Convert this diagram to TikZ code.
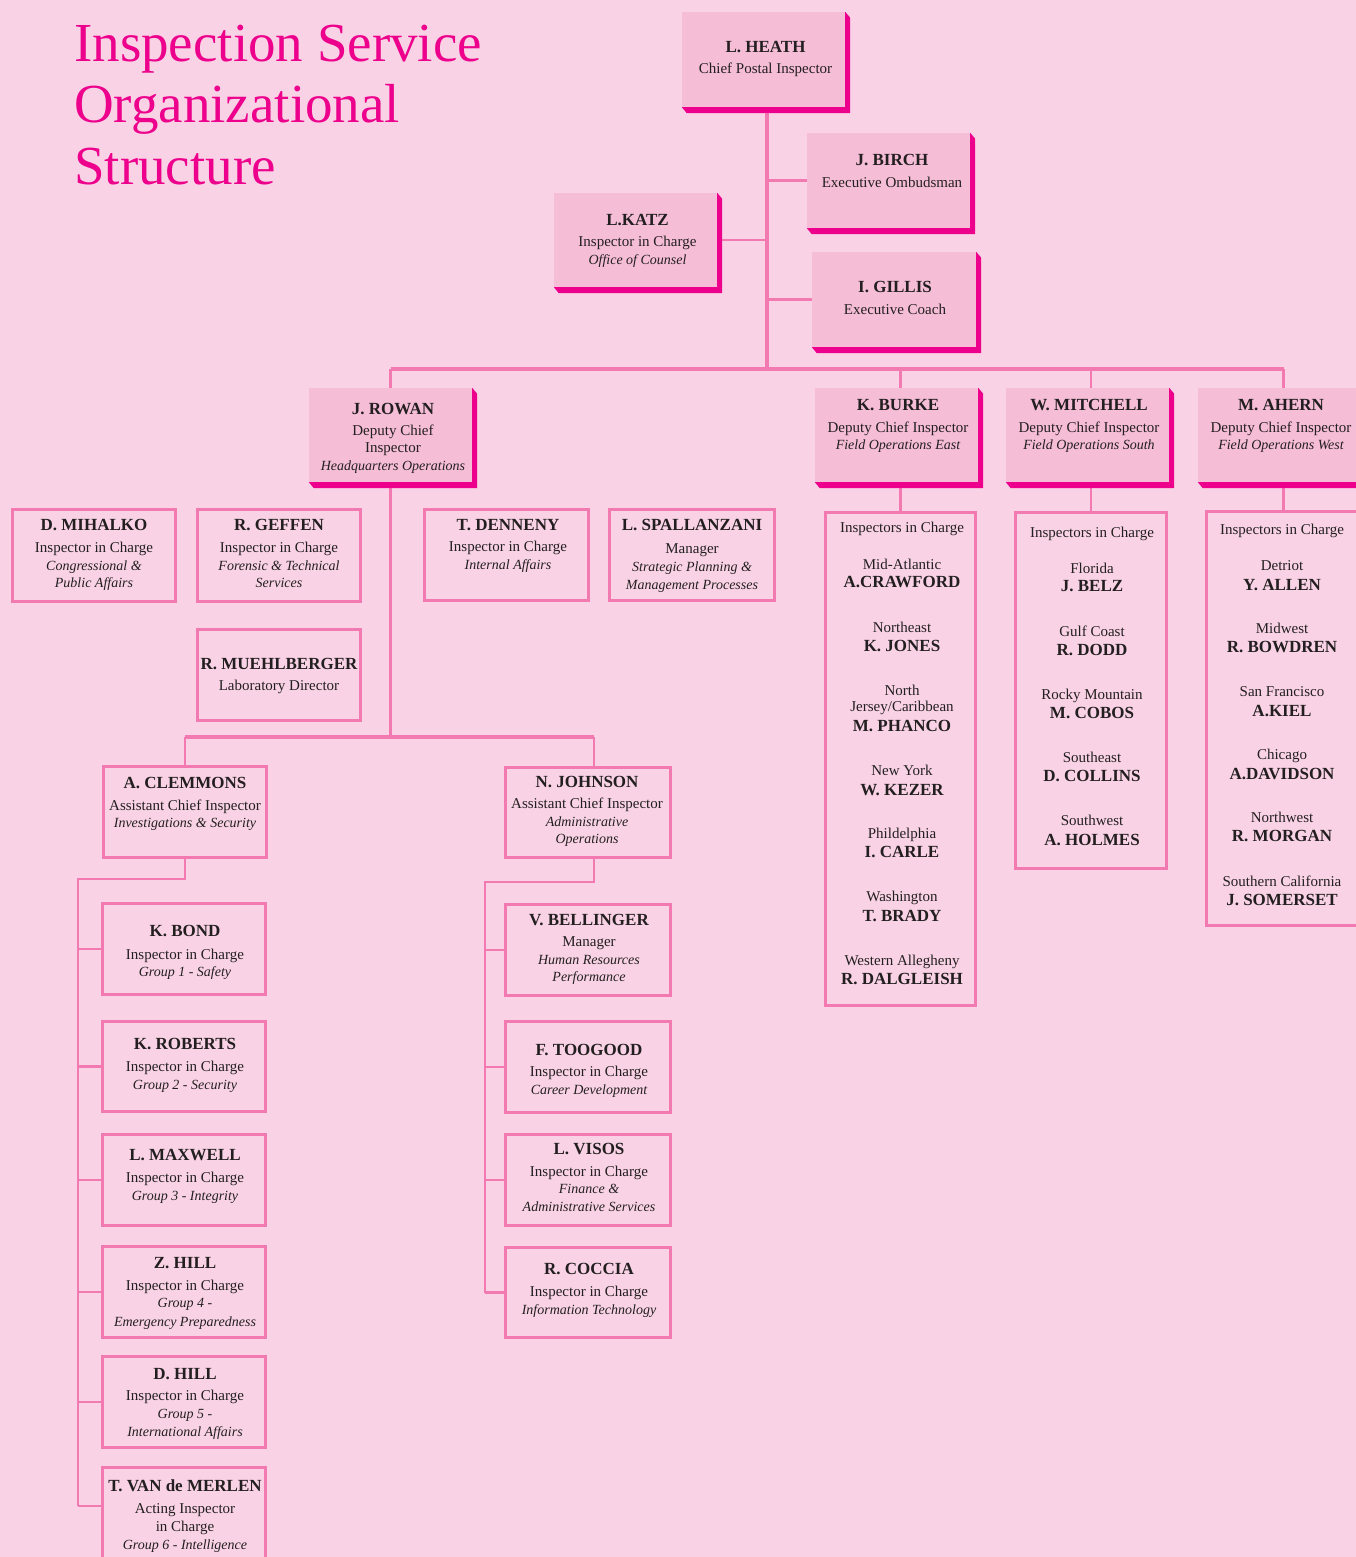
\documentclass[tikz,border=0pt]{standalone}
\usepackage{fontspec}
\setmainfont{Liberation Serif}
\usetikzlibrary{calc}
\definecolor{bgc}{HTML}{F9D3E5}
\definecolor{boxc}{HTML}{F6BDD7}
\definecolor{shc}{HTML}{EC008C}
\definecolor{linec}{HTML}{F27AB0}
\definecolor{titlec}{HTML}{EC008C}
\definecolor{txtc}{HTML}{231F20}
\pgfdeclarelayer{bg}\pgfdeclarelayer{lines}\pgfsetlayers{bg,lines,main}
\newcommand\nmf{\fontsize{17}{20}\selectfont\bfseries}
\newcommand\itl{\fontsize{14}{17}\selectfont\itshape}
\newcommand\boxlines[3]{\foreach \yy/\txt [count=\ii] in {#3}{\node[ln] (#1-\ii) at (#2,\yy) {\txt};}}
\newcommand\fb[5]{\node[fbox,minimum width=#4pt,minimum height=#5pt] (#1) at (#2,#3) {};}
\newcommand\ob[5]{\node[obox,minimum width=#4pt,minimum height=#5pt] (#1) at (#2,#3) {};}
\begin{document}
\begin{tikzpicture}[x=1pt,y=-1pt,
  ln/.style={anchor=base,inner sep=0pt,text=txtc,font=\fontsize{15}{18}\selectfont},
  ttl/.style={anchor=base west,inner sep=0pt,text=titlec,font=\fontsize{55}{62}\selectfont},
  fbox/.style={rectangle,fill=boxc,draw=none,inner sep=0pt},
  obox/.style={rectangle,draw=linec,line width=3pt,inner sep=0pt},
  trunk/.style={draw=linec,line width=3.3pt},
  br/.style={draw=linec,line width=2.6pt},
  thn/.style={draw=linec,line width=2.2pt}]
\useasboundingbox (0,0) rectangle (1356,1557);
\begin{pgfonlayer}{bg}
\fill[bgc] (0,0) rectangle (1356,1557);
\end{pgfonlayer}
\clip (0,0) rectangle (1356,1557);

% title
\node[ttl] (title1) at (74,62) {Inspection Service};
\node[ttl] (title2) at (74,123) {Organizational};
\node[ttl] (title3) at (74,185) {Structure};

% filled boxes
\fb{heath}{763.5}{59.5}{163}{95}
\fb{birch}{888.5}{180.5}{163}{95}
\fb{katz}{635.5}{240}{163}{94}
\fb{gillis}{894}{299.5}{164}{95}
\fb{rowan}{390.5}{435}{163}{94}
\fb{burke}{896.5}{435}{163}{94}
\fb{mitchell}{1087.5}{435}{163}{94}
\fb{ahern}{1279.5}{435}{163}{94}
\foreach \n in {heath,birch,katz,gillis,rowan,burke,mitchell,ahern}{
  \fill[shc] (\n.south west) -- ++(5,6) -- ([shift={(5,6)}]\n.south east)
     -- ([shift={(5,6)}]\n.north east) -- (\n.north east) -- (\n.south east) -- cycle;
}

% outline boxes
\ob{mihalko}{94}{555.5}{163}{92}
\ob{geffen}{279}{555.5}{163}{92}
\ob{muehl}{279}{675}{163}{91}
\ob{denneny}{506.5}{555}{164}{91}
\ob{spall}{692}{555}{165}{91}
\ob{clemmons}{185}{812}{163}{91}
\ob{johnson}{588}{812.5}{165}{90}
\ob{bond}{184}{949}{163}{91}
\ob{roberts}{184}{1066.5}{163}{90}
\ob{maxwell}{184}{1180}{163}{91}
\ob{zhill}{184}{1292}{163}{91}
\ob{dhill}{184}{1402}{163}{91}
\ob{vdm}{184}{1513}{163}{91}
\ob{bellinger}{588}{950}{165}{91}
\ob{toogood}{588}{1067}{165}{91}
\ob{visos}{588}{1180}{165}{91}
\ob{coccia}{588}{1292.5}{165}{90}
\ob{burkelist}{900.5}{759}{150}{493}
\ob{mitchlist}{1091}{690.5}{151}{356}
\ob{ahernlist}{1283.5}{718.5}{154}{414}

% connectors
\begin{pgfonlayer}{lines}
\coordinate (j0) at (767,369);
\draw[trunk] (heath.south -| j0) -- (j0);
\draw[br] (birch.west) -- (birch.west -| j0);
\draw[br] (katz.east) -- (katz.east -| j0);
\draw[br] (gillis.west) -- (gillis.west -| j0);
\draw[trunk] (rowan.north |- j0) -- (ahernlist.north |- j0);
\draw[thn] (rowan.north |- j0) -- (rowan.north);
\draw[thn] (burkelist.north |- j0) -- (burkelist.north);
\draw[thn] (mitchlist.north |- j0) -- (mitchlist.north);
\draw[thn] (ahernlist.north |- j0) -- (ahernlist.north);
\coordinate (j1) at (390.5,737);
\draw[thn] (rowan.south) -- (j1);
\coordinate (jn) at ([xshift=6pt]johnson.north);
\coordinate (js) at ([xshift=6pt]johnson.south);
\draw[trunk] (clemmons.north |- j1) -- (jn |- j1);
\draw[thn] (clemmons.north |- j1) -- (clemmons.north);
\draw[thn] (jn |- j1) -- (jn);
\coordinate (cl) at (78,879);
\coordinate (vdmb) at ([yshift=7pt]vdm.west);
\draw[thn] (clemmons.south) |- (cl) -- (cl |- vdmb);
\foreach \n in {bond,roberts,maxwell,zhill,dhill}{\draw[thn] (\n.west) -- (\n.west -| cl);}
\draw[thn] (vdmb) -- (vdmb -| cl);
\coordinate (jl) at (485,882);
\draw[thn] (js) |- (jl) -- (jl |- coccia.west);
\foreach \n in {bellinger,toogood,visos,coccia}{\draw[thn] (\n.west) -- (\n.west -| jl);}
\end{pgfonlayer}

% texts
\boxlines{heathT}{765.5}{52.3/{\nmf L. HEATH},73.3/{Chief Postal Inspector}}
\boxlines{birchT}{892}{166/{\nmf J. BIRCH},187.7/{Executive Ombudsman}}
\boxlines{katzT}{637.5}{225/{\nmf L.KATZ},246.7/{Inspector in Charge},264.3/{\itl Office of Counsel}}
\boxlines{gillisT}{895}{292.7/{\nmf I. GILLIS},314/{Executive Coach}}
\boxlines{rowanT}{393}{414/{\nmf J. ROWAN},435/{Deputy Chief},452.7/{Inspector},470/{\itl Headquarters Operations}}
\boxlines{burkeT}{898}{410/{\nmf K. BURKE},432/{Deputy Chief Inspector},449.3/{\itl Field Operations East}}
\boxlines{mitchellT}{1089}{410/{\nmf W. MITCHELL},432/{Deputy Chief Inspector},449.3/{\itl Field Operations South}}
\boxlines{ahernT}{1281}{410/{\nmf M. AHERN},432/{Deputy Chief Inspector},449.3/{\itl Field Operations West}}
\boxlines{mihalkoT}{94}{530/{\nmf D. MIHALKO},552.3/{Inspector in Charge},570/{\itl Congressional \&},587.3/{\itl Public Affairs}}
\boxlines{geffenT}{279}{530.7/{\nmf R. GEFFEN},552.3/{Inspector in Charge},570/{\itl Forensic \& Technical},587.3/{\itl Services}}
\boxlines{muehlT}{279}{669/{\nmf R. MUEHLBERGER},690/{Laboratory Director}}
\boxlines{dennenyT}{508}{530/{\nmf T. DENNENY},551.7/{Inspector in Charge},569/{\itl Internal Affairs}}
\boxlines{spallT}{692}{530/{\nmf L. SPALLANZANI},553.3/{Manager},571/{\itl Strategic Planning \&},589/{\itl Management Processes}}
\boxlines{clemmonsT}{185}{788/{\nmf A. CLEMMONS},810/{Assistant Chief Inspector},827.7/{\itl Investigations \& Security}}
\boxlines{johnsonT}{587}{787.3/{\nmf N. JOHNSON},808.3/{Assistant Chief Inspector},826/{\itl Administrative},843.7/{\itl Operations}}
\boxlines{bondT}{185}{936/{\nmf K. BOND},959/{Inspector in Charge},976.7/{\itl Group 1 - Safety}}
\boxlines{robertsT}{185}{1049/{\nmf K. ROBERTS},1071.7/{Inspector in Charge},1089.3/{\itl Group 2 - Security}}
\boxlines{maxwellT}{185}{1160/{\nmf L. MAXWELL},1182.7/{Inspector in Charge},1200/{\itl Group 3 - Integrity}}
\boxlines{zhillT}{185}{1268.3/{\nmf Z. HILL},1290/{Inspector in Charge},1307.7/{\itl Group 4 -},1326/{\itl Emergency Preparedness}}
\boxlines{dhillT}{185}{1379.3/{\nmf D. HILL},1400.7/{Inspector in Charge},1418.3/{\itl Group 5 -},1436.7/{\itl International Affairs}}
\boxlines{vdmT}{185}{1491.7/{\nmf T. VAN de MERLEN},1513.3/{Acting Inspector},1531/{in Charge},1549/{\itl Group 6 - Intelligence}}
\boxlines{bellingerT}{589}{925/{\nmf V. BELLINGER},946.7/{Manager},964.3/{\itl Human Resources},981.7/{\itl Performance}}
\boxlines{toogoodT}{589}{1055/{\nmf F. TOOGOOD},1076.7/{Inspector in Charge},1094.3/{\itl Career Development}}
\boxlines{visosT}{589}{1154.3/{\nmf L. VISOS},1176/{Inspector in Charge},1193.3/{\itl Finance \&},1211/{\itl Administrative Services}}
\boxlines{cocciaT}{589}{1274/{\nmf R. COCCIA},1296.7/{Inspector in Charge},1314.3/{\itl Information Technology}}

% inspector lists
\boxlines{burkeL}{902}{532.3/{Inspectors in Charge},569/{Mid-Atlantic},587.3/{\nmf A.CRAWFORD},632.3/{Northeast},651/{\nmf K. JONES},695.7/{North},711.7/{Jersey/Caribbean},731.7/{\nmf M. PHANCO},775/{New York},795/{\nmf W. KEZER},838.3/{Phildelphia},857.7/{\nmf I. CARLE},901.7/{Washington},921/{\nmf T. BRADY},965/{Western Allegheny},984/{\nmf R. DALGLEISH}}
\boxlines{mitchL}{1092}{537.3/{Inspectors in Charge},573.3/{Florida},591.7/{\nmf J. BELZ},636/{Gulf Coast},655/{\nmf R. DODD},699/{Rocky Mountain},718.3/{\nmf M. COBOS},762.3/{Southeast},781.7/{\nmf D. COLLINS},825.7/{Southwest},845/{\nmf A. HOLMES}}
\boxlines{ahernL}{1282}{534/{Inspectors in Charge},570/{Detriot},590/{\nmf Y. ALLEN},633.3/{Midwest},652.7/{\nmf R. BOWDREN},696/{San Francisco},716/{\nmf A.KIEL},759/{Chicago},779.3/{\nmf A.DAVIDSON},822.7/{Northwest},841.7/{\nmf R. MORGAN},886/{Southern California},905/{\nmf J. SOMERSET}}
\end{tikzpicture}
\end{document}
